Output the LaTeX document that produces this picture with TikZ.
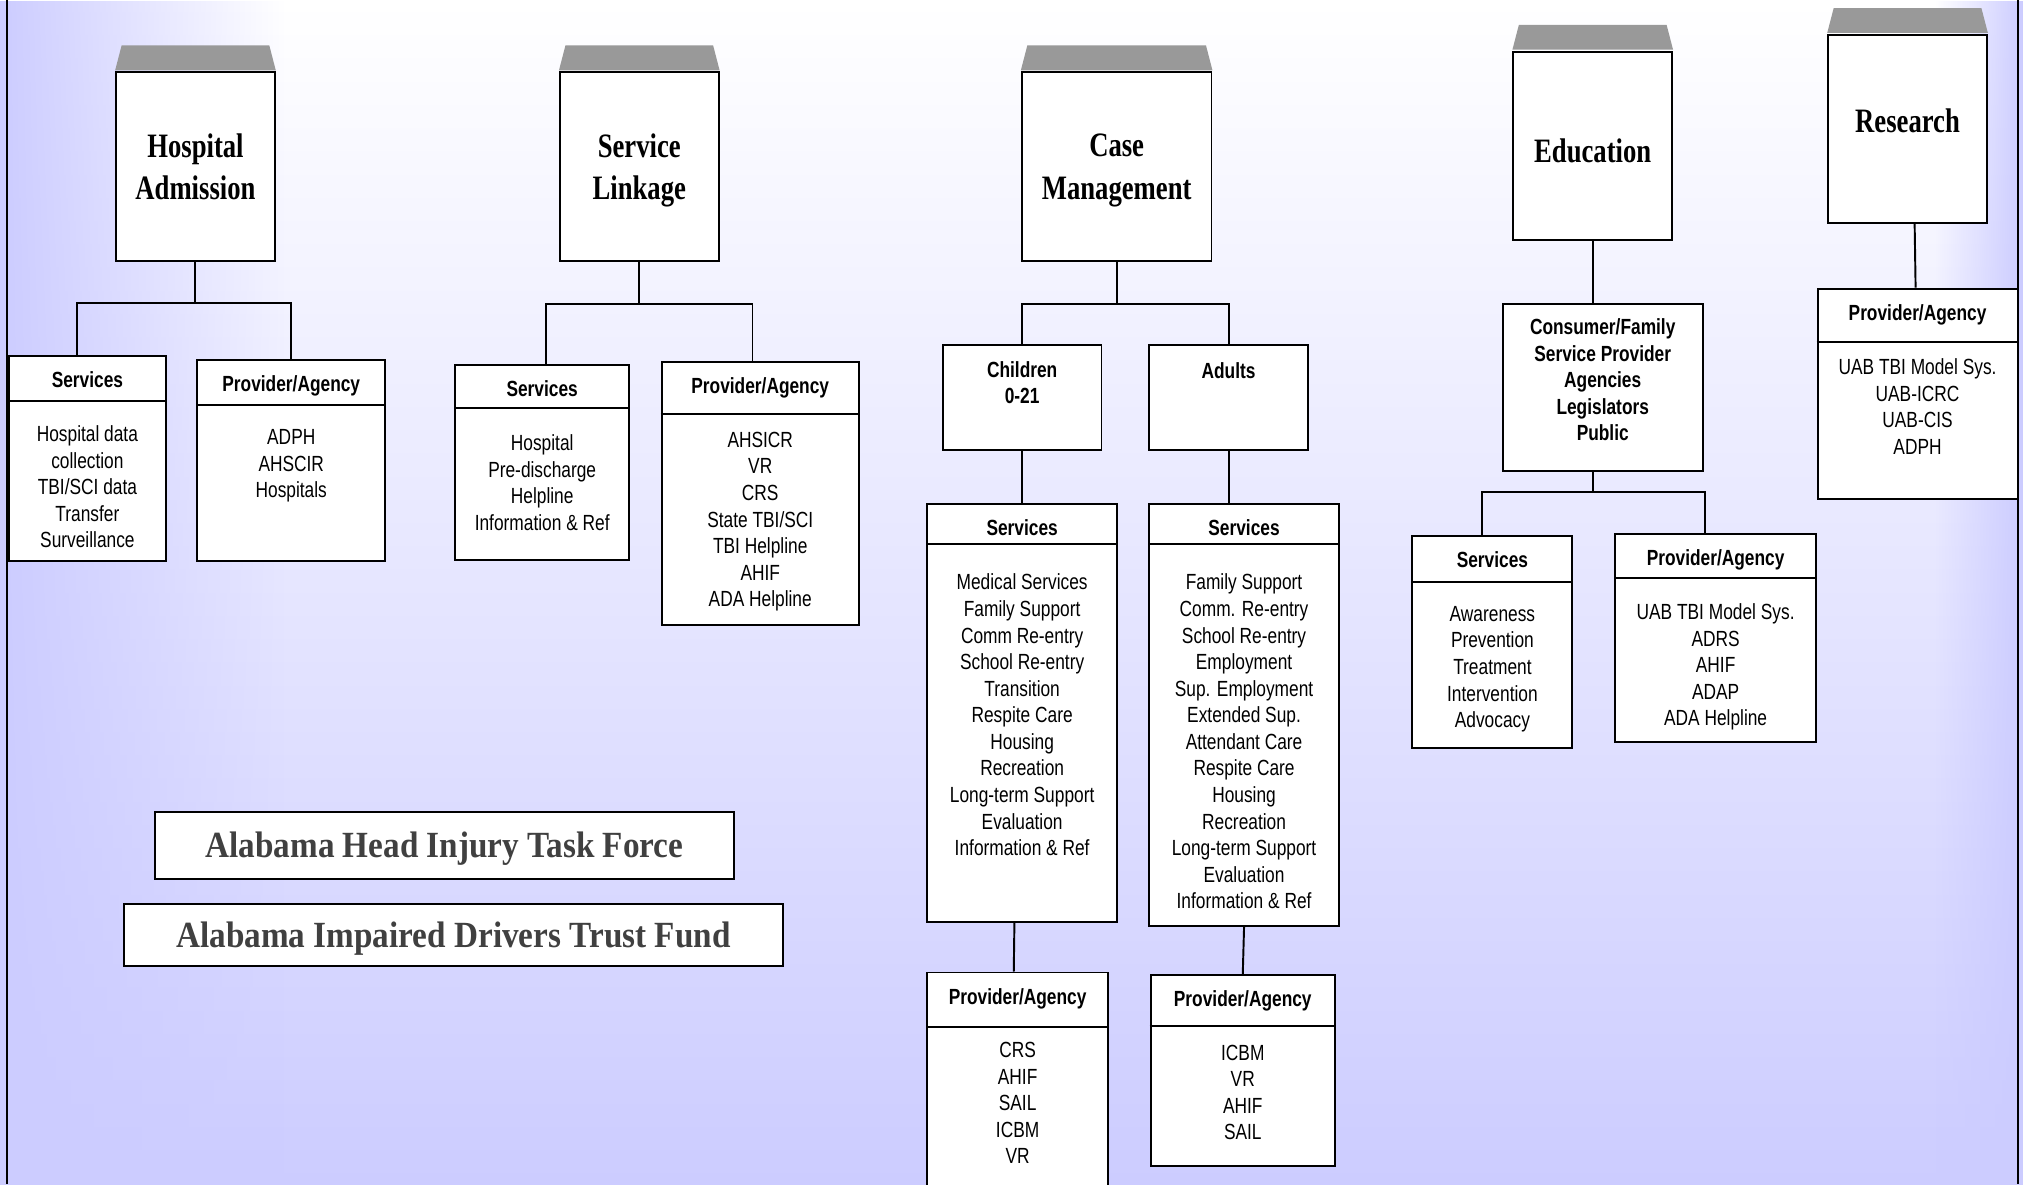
\documentclass[tikz,border=0pt]{standalone}
\usepackage{fontspec}
\setmainfont[FakeStretch=0.79]{Liberation Sans}
\newfontfamily\titlefont[FakeStretch=0.78]{Liberation Serif}
\newfontfamily\bannerfont[FakeStretch=0.9]{Liberation Serif}
\usepackage{tikz}
\usetikzlibrary{fadings}

\definecolor{bglav}{RGB}{204,204,255}
\definecolor{capgray}{RGB}{153,153,153}
\definecolor{bannertext}{RGB}{64,64,64}
\tikzfading[name=leftedge, left color=transparent!0, right color=transparent!100]
\tikzfading[name=rightedge, left color=transparent!100, right color=transparent!0]

% name, north west corner, width, height, divider drop, heading, items
\newcommand\agencybox[7]{%
  \node[box, minimum width=#3, minimum height=#4] (#1) at (#2) {};
  \draw[link] ([yshift=-#5]#1.north west) -- ([yshift=-#5]#1.north east);
  \node[head] (#1h) at ([yshift=-12.7]#1.north) {#6};
  \node[items] (#1t) at ([yshift=-54.7]#1.north) {#7};
}

\begin{document}
\begin{tikzpicture}
 [ x=1pt, y=-1pt
 , link/.style={line width=1.5}
 , box/.style={draw, fill=white, line width=1.5, anchor=north west, inner sep=0}
 , topbox/.style={draw, fill=white, line width=1.5, minimum width=123, minimum height=146,
     inner sep=0, align=center, text depth=0, font=\titlefont\bfseries\fontsize{26.5}{33}\selectfont}
 , head/.style={anchor=north, inner sep=0, align=center, font=\bfseries\fontsize{17}{20.6}\selectfont}
 , items/.style={anchor=north, inner sep=0, align=center, font=\fontsize{17}{20.6}\selectfont}
 , banner/.style={draw, fill=white, line width=1.5, text=bannertext, text depth=0,
     font=\bannerfont\bfseries\fontsize{28.6}{32}\selectfont}
 ]
  \useasboundingbox (0,0) rectangle (1568,918);
  \shade[top color=white, bottom color=bglav] (0,0) rectangle (1568,918);
  \fill[bglav, path fading=leftedge] (0,0) rectangle (220,918);
  \fill[bglav, path fading=rightedge] (1500,0) rectangle (1568,918);
  \draw[line width=1.5] (5.5,0) -- (5.5,918) (1564,0) -- (1564,918);

  \node[topbox] (ha) at (151.5,129) {Hospital\\Admission};
  \node[topbox] (sl) at (495.5,129) {Service\\Linkage};
  \node[topbox, minimum width=147] (cm) at (865.5,129) {Case\\Management};
  \node[topbox, text height=26] (ed) at (1234.5,113) {Education};
  \node[topbox, text depth=13] (rs) at (1478.5,100) {Research};
  \foreach \n in {ha,sl,cm,ed,rs}
    \fill[capgray] ([yshift=0.75]\n.north west) -- ([xshift=5,yshift=20]\n.north west)
      -- ([xshift=-5,yshift=20]\n.north east) -- ([yshift=0.75]\n.north east) -- cycle;

  \agencybox{hasrv}{6,275}{122}{159}{36}{Services}
    {Hospital data\\collection\\TBI/SCI data\\Transfer\\Surveillance}
  \agencybox{hapro}{152,278}{146}{156}{36}{Provider/Agency}{ADPH\\AHSCIR\\Hospitals}
  \agencybox{slsrv}{352,282}{135}{151}{34}{Services}
    {Hospital\\Pre-discharge\\Helpline\\Information \& Ref}
  \agencybox{slpro}{512,280}{153}{204}{41}{Provider/Agency}
    {AHSICR\\VR\\CRS\\State TBI/SCI\\TBI Helpline\\AHIF\\ADA Helpline}

  \node[box, minimum width=123, minimum height=81] (ch) at (730,267) {};
  \node[head] (cht) at ([yshift=-12.7]ch.north) {Children\\0-21};
  \node[box, minimum width=123, minimum height=81] (ad) at (890,267) {};
  \node[head] (adt) at ([yshift=-13.7]ad.north) {Adults};
  \agencybox{chsrv}{718,390}{147}{324}{32}{Services}
    {Medical Services\\Family Support\\Comm Re-entry\\School Re-entry\\Transition\\Respite Care\\
     Housing\\Recreation\\Long-term Support\\Evaluation\\Information \& Ref}
  \agencybox{adsrv}{890,390}{147}{327}{32}{Services}
    {Family Support\\Comm. Re-entry\\School Re-entry\\Employment\\Sup. Employment\\Extended Sup.\\
     Attendant Care\\Respite Care\\Housing\\Recreation\\Long-term Support\\Evaluation\\Information \& Ref}
  \agencybox{chpro}{718,753}{140}{180}{43}{Provider/Agency}{CRS\\AHIF\\SAIL\\ICBM\\VR}
  \agencybox{adpro}{891,755}{143}{148}{40}{Provider/Agency}{ICBM\\VR\\AHIF\\SAIL}

  \node[box, minimum width=155, minimum height=129] (cons) at (1164,235) {};
  \node[head] (const) at ([yshift=-11.7]cons.north)
    {Consumer/Family\\Service Provider\\Agencies\\Legislators\\Public};
  \agencybox{edsrv}{1094,415}{124}{164}{36}{Services}
    {Awareness\\Prevention\\Treatment\\Intervention\\Advocacy}
  \agencybox{edpro}{1251,413}{156}{161}{35}{Provider/Agency}
    {UAB TBI Model Sys.\\ADRS\\AHIF\\ADAP\\ADA Helpline}
  \agencybox{rspro}{1408,223}{155}{163}{42}{Provider/Agency}
    {UAB TBI Model Sys.\\UAB-ICRC\\UAB-CIS\\ADPH}

  \draw[link] (ha.south) -- ++(0,32) -| ([xshift=-8]hasrv.north);
  \draw[link] (ha.south) -- ++(0,32) -| (hapro.north);
  \draw[link] (sl.south) -- ++(0,33) -| ([xshift=3]slsrv.north);
  \draw[link] (sl.south) -- ++(0,33) -| ([xshift=-6]slpro.north);
  \draw[link] (cm.south) -- ++(0,33) -| (ch.north);
  \draw[link] (cm.south) -- ++(0,33) -| (ad.north);
  \draw[link] (ch.south) -- (ch.south |- chsrv.north);
  \draw[link] (ad.south) -- (ad.south |- adsrv.north);
  \draw[link] ([xshift=-6]chsrv.south) -- ([xshift=-3]chpro.north);
  \draw[link] (adsrv.south) -- (adpro.north);
  \draw[link] (ed.south) -- (ed.south |- cons.north);
  \draw[link] ([xshift=-7.5]cons.south) -- ++(0,16) -| ([xshift=-8]edsrv.north);
  \draw[link] ([xshift=-7.5]cons.south) -- ++(0,16) -| ([xshift=-8.5]edpro.north);
  \draw[link] ([xshift=5.5]rs.south) -- ([xshift=-1.5]rspro.north);

  \node[banner, minimum width=449, minimum height=52] (task) at (344.5,655)
    {Alabama Head Injury Task Force};
  \node[banner, minimum width=511, minimum height=48] (fund) at (351.5,724.5)
    {Alabama Impaired Drivers Trust Fund};
\end{tikzpicture}
\end{document}
